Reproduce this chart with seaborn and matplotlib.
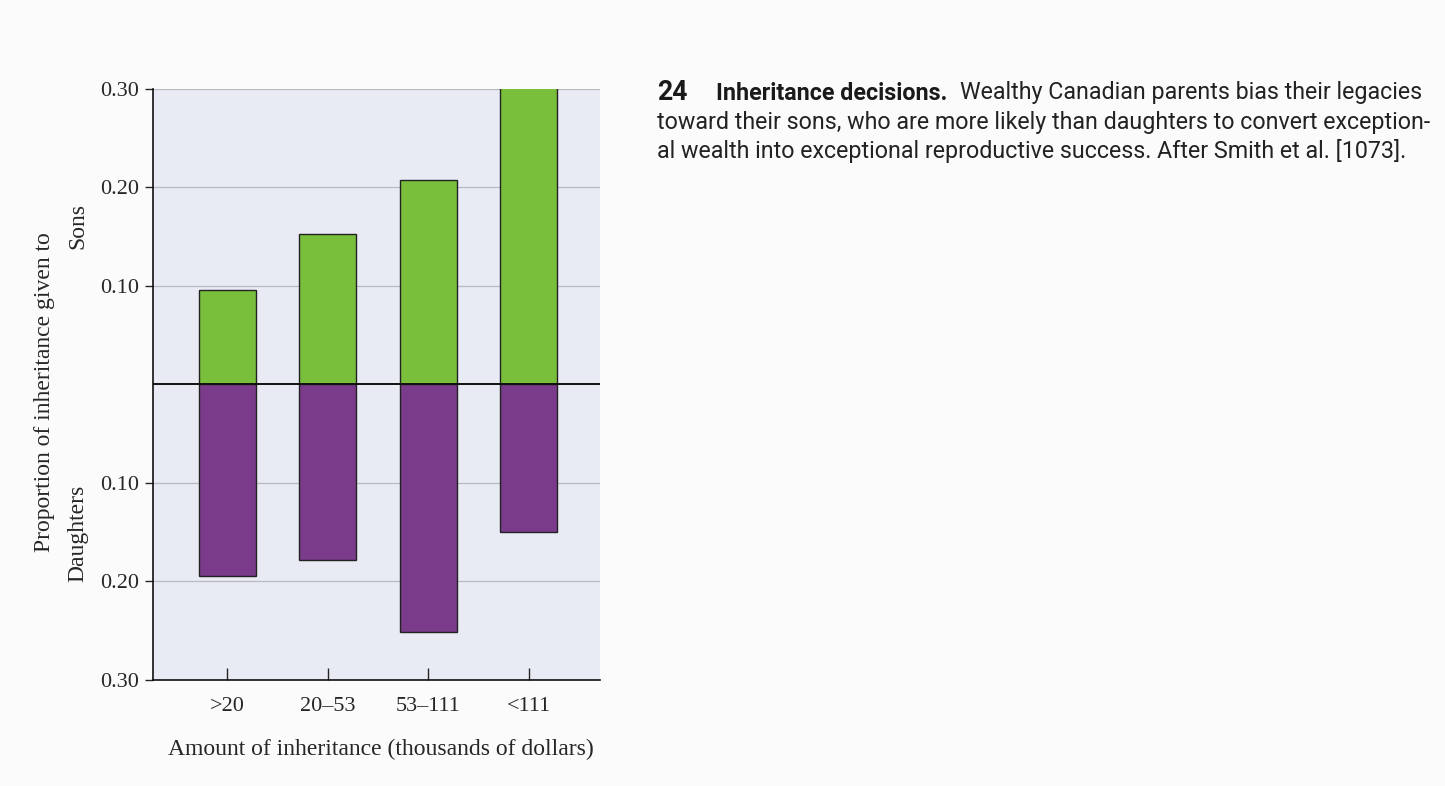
import matplotlib
matplotlib.use("Agg")
import matplotlib.pyplot as plt
import seaborn as sns
import pandas as pd
from matplotlib.ticker import FuncFormatter

# values
categories = ['>20', '20\u201353', '53\u2013111', '<111']
sons = [0.096, 0.153, 0.207, 0.302]
daughters = [0.195, 0.178, 0.251, 0.150]
yticks = [-0.3, -0.2, -0.1, 0.1, 0.2, 0.3]

green = '#79bf3c'
purple = '#7a3b8b'

sns.set_style('white')
plt.rcParams['font.family'] = ['Liberation Serif', 'DejaVu Serif']

df = pd.DataFrame({'amount': categories, 'sons': sons,
                   'daughters': [-d for d in daughters]})

fig = plt.figure(figsize=(14.45, 7.86), dpi=100, facecolor='#fbfbfb')
ax = fig.add_axes([0.106, 0.135, 0.309, 0.752])
ax.set_facecolor('#e9ebf4')

for v in yticks:
    ax.axhline(v, color='#b8bac2', lw=0.9, zorder=0)

sns.barplot(data=df, x='amount', y='sons', color=green, width=0.566,
            edgecolor='#222222', linewidth=1.0, saturation=1, ax=ax, zorder=2)
sns.barplot(data=df, x='amount', y='daughters', color=purple, width=0.566,
            edgecolor='#222222', linewidth=1.0, saturation=1, ax=ax, zorder=2)
ax.axhline(0, color='#111111', lw=1.4, zorder=3)

ax.set_xlim(-0.735, 3.705)
ax.set_ylim(-0.3, 0.3)
ax.set_yticks(yticks)
ax.yaxis.set_major_formatter(FuncFormatter(lambda v, p: f'{abs(v):.2f}'))
ax.tick_params(axis='y', direction='out', length=6, width=1, labelsize=16, pad=4)
ax.tick_params(axis='x', direction='in', length=9, width=1, labelsize=16, pad=12)
ax.tick_params(left=True, bottom=True)

for s in ['top', 'right']:
    ax.spines[s].set_visible(False)
for s in ['left', 'bottom']:
    ax.spines[s].set_color('#111111')
    ax.spines[s].set_linewidth(1.2)

ax.set_xlabel('Amount of inheritance (thousands of dollars)', fontsize=17)
ax.set_ylabel('')
ax.xaxis.set_label_coords(0.51, -0.1)

fig.text(0.031, 0.501, 'Proportion of inheritance given to', rotation=90,
         ha='center', va='center', fontsize=17)
fig.text(0.054, 0.712, 'Sons', rotation=90, ha='center', va='center', fontsize=17)
fig.text(0.054, 0.322, 'Daughters', rotation=90, ha='center', va='center', fontsize=17)

# caption, sized so the second line spans the same width as in the figure
cap_font = ['Roboto', 'DejaVu Sans']
line2 = 'toward their sons, who are more likely than daughters to convert exception-'
line3 = 'al wealth into exceptional reproductive success. After Smith et al. [1073].'
renderer = fig.canvas.get_renderer()
probe = fig.text(0, 0, line2, fontsize=16, family=cap_font)
w = probe.get_window_extent(renderer).width
probe.remove()
cap_size = 16 * 773 / w

x0 = 657 / 1445
y1, y2, y3 = 1 - 93 / 786, 1 - 122 / 786, 1 - 151 / 786
t = fig.text(x0, y1, '24', fontsize=cap_size * 1.15, fontweight='bold',
             family=cap_font, va='center', color='#1a1a1a')
t = fig.text(716 / 1445, y1, 'Inheritance decisions.', fontsize=cap_size,
             fontweight='bold', family=cap_font, va='center', color='#1a1a1a')
bb = t.get_window_extent(renderer)
fig.text((bb.x1 + 13) / 1445, y1, 'Wealthy Canadian parents bias their legacies',
         fontsize=cap_size, family=cap_font, va='center', color='#222222')
fig.text(x0, y2, line2, fontsize=cap_size, family=cap_font, va='center', color='#222222')
fig.text(x0, y3, line3, fontsize=cap_size, family=cap_font, va='center', color='#222222')

fig.savefig('out.png', dpi=100, facecolor=fig.get_facecolor())
